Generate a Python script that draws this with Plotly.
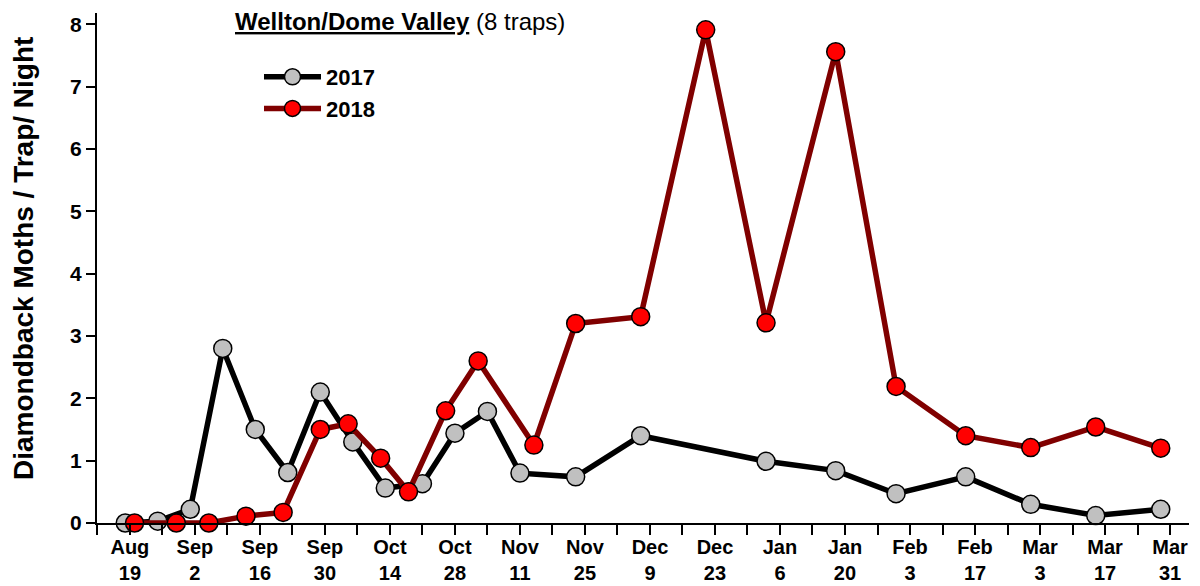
import pandas as pd
import plotly.graph_objects as go

# ---- data (season dates, month-day) ----
dates_2017 = ["08-18", "08-25", "09-01", "09-08", "09-15", "09-22", "09-29", "10-06",
              "10-13", "10-21", "10-28", "11-04", "11-11", "11-23", "12-07", "01-03",
              "01-18", "01-31", "02-15", "03-01", "03-15", "03-29"]
values_2017 = [0.00, 0.03, 0.22, 2.80, 1.50, 0.81, 2.10, 1.30, 0.56, 0.63, 1.44, 1.79,
               0.80, 0.74, 1.40, 0.99, 0.84, 0.47, 0.74, 0.30, 0.12, 0.22]

dates_2018 = ["08-20", "08-29", "09-05", "09-13", "09-21", "09-29", "10-05", "10-12",
              "10-18", "10-26", "11-02", "11-14", "11-23", "12-07", "12-21", "01-03",
              "01-18", "01-31", "02-15", "03-01", "03-15", "03-29"]
values_2018 = [0.00, 0.00, 0.00, 0.11, 0.17, 1.50, 1.59, 1.04, 0.50, 1.80, 2.60, 1.25,
               3.20, 3.31, 7.91, 3.21, 7.56, 2.19, 1.40, 1.21, 1.54, 1.20]

tick_dates = ["08-19", "09-02", "09-16", "09-30", "10-14", "10-28", "11-11", "11-25",
              "12-09", "12-23", "01-06", "01-20", "02-03", "02-17", "03-03", "03-17", "03-31"]
tick_labels = ["Aug<br>19", "Sep<br>2", "Sep<br>16", "Sep<br>30", "Oct<br>14", "Oct<br>28",
               "Nov<br>11", "Nov<br>25", "Dec<br>9", "Dec<br>23", "Jan<br>6", "Jan<br>20",
               "Feb<br>3", "Feb<br>17", "Mar<br>3", "Mar<br>17", "Mar<br>31"]


def season(md_list):
    """Map month-day strings onto a common Aug-Mar season axis."""
    out = []
    for md in md_list:
        m = int(md[:2])
        year = 2017 if m >= 8 else 2018
        out.append(pd.Timestamp(f"{year}-{md}"))
    return out


FONT = "Liberation Sans, Arial, sans-serif"

# page body has an 8px margin: figure drawn at (8, 8)
OFF = 8
PL, PR, PT, PB = 97, 1189, 13, 523          # desired plot-area pixels in screenshot
W, H = 1200 - OFF, 586 - OFF
PW, PH = PR - PL, PB - PT


def px_x(x):
    return (x - PL) / PW


def px_y(y):
    return (PB - y) / PH


fig = go.Figure()
fig.add_trace(go.Scatter(
    x=season(dates_2017), y=values_2017, name="2017", mode="lines+markers",
    line=dict(color="#000000", width=5.5),
    marker=dict(size=18, color="#C0C0C0", line=dict(color="#000000", width=1.5)),
    cliponaxis=False,
))
fig.add_trace(go.Scatter(
    x=season(dates_2018), y=values_2018, name="2018", mode="lines+markers",
    line=dict(color="#800000", width=5.5),
    marker=dict(size=18, color="#FF0000", line=dict(color="#000000", width=1.5)),
    cliponaxis=False,
))

fig.update_layout(
    width=W, height=H,
    margin=dict(l=PL - OFF, r=W + OFF - PR, t=PT - OFF, b=H + OFF - PB, autoexpand=False),
    paper_bgcolor="white", plot_bgcolor="white",
    font=dict(family=FONT, color="#000000"),
    showlegend=True,
    legend=dict(
        x=px_x(259), y=px_y(56), xanchor="left", yanchor="top",
        bgcolor="rgba(0,0,0,0)", font=dict(size=22, family=FONT, weight="bold"),
        tracegroupgap=0, itemwidth=57,
    ),
    annotations=[
        dict(
            text="<b><u>Wellton/Dome Valley</u></b> (8 traps)",
            xref="paper", yref="paper",
            x=px_x(233), y=px_y(21), xanchor="left", yanchor="middle",
            showarrow=False, font=dict(size=24, family=FONT),
        ),
        dict(
            text="<b>Diamondback Moths / Trap/ Night</b>",
            xref="paper", yref="paper",
            x=px_x(24), y=px_y(259), xanchor="center", yanchor="middle",
            textangle=-90, showarrow=False, borderpad=0,
            font=dict(size=28, family=FONT),
        ),
    ],
)

fig.update_xaxes(
    range=[pd.Timestamp("2017-08-11 22:00"), pd.Timestamp("2018-04-04 02:00")],
    tickmode="array",
    tickvals=season(tick_dates), ticktext=tick_labels,
    ticks="outside", ticklen=10, tickwidth=2, tickcolor="#000000",
    showline=True, linecolor="#000000", linewidth=2,
    showgrid=False, zeroline=False, automargin=False,
    tickfont=dict(size=20, family=FONT, weight="bold"),
    tickangle=0, ticklabelstandoff=-5,
    minor=dict(ticks="outside", ticklen=10, tickwidth=2, tickcolor="#000000",
               tick0=pd.Timestamp("2017-08-12"), dtick=7 * 86400000, showgrid=False),
)
fig.update_yaxes(
    range=[0, 8.18],
    tickmode="linear", tick0=0, dtick=1,
    ticks="outside", ticklen=9, tickwidth=2, tickcolor="#000000",
    showline=True, linecolor="#000000", linewidth=2,
    showgrid=False, zeroline=False, automargin=False,
    tickfont=dict(size=21, family=FONT, weight="bold"),
)

fig.write_html("out.html")
